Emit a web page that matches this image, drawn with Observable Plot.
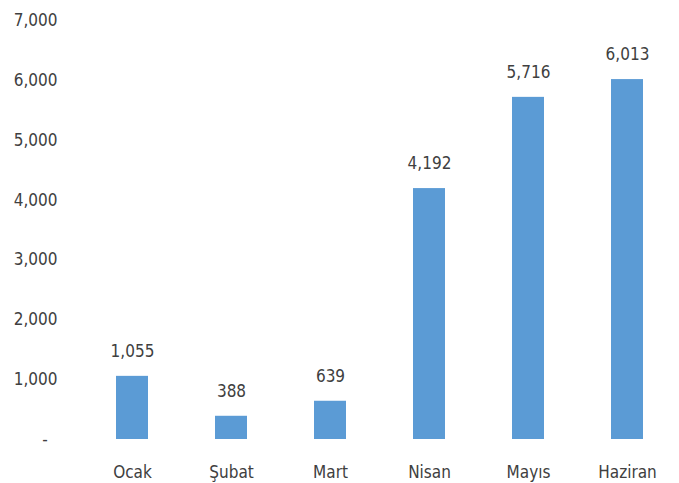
<!DOCTYPE html>
<html>
<head>
<meta charset="utf-8">
<script src="https://cdn.jsdelivr.net/npm/d3@7"></script>
<script src="https://cdn.jsdelivr.net/npm/@observablehq/plot@0.6"></script>
<style>
  html, body { margin: 0; padding: 0; background: #fff; }
  #chart svg { display: block; }
</style>
</head>
<body>
<div id="chart"></div>
<script>
const months = ["Ocak", "Şubat", "Mart", "Nisan", "Mayıs", "Haziran"];
const values = [1055, 388, 639, 4192, 5716, 6013];
const yTicks = [0, 1000, 2000, 3000, 4000, 5000, 6000, 7000];

const data = months.map((m, i) => ({month: m, value: values[i]}));
const fmt = d3.format(",");
const font = "'Liberation Sans Narrow', 'DejaVu Sans Condensed', sans-serif";

const chart = Plot.plot({
  width: 679,
  height: 483,
  marginTop: 20,
  marginBottom: 44,
  marginLeft: 80,
  marginRight: 0,
  style: {fontFamily: font, fontSize: "17px", color: "#404040", background: "#fff"},
  x: {domain: months, paddingInner: 0.68, paddingOuter: 0.34, label: null},
  y: {domain: [0, 7000], label: null},
  marks: [
    Plot.axisY({ticks: yTicks, tickSize: 0, tickPadding: 23, tickFormat: d => d === 0 ? "-\u00a0\u00a0" : fmt(d), fontSize: 17, fill: "#404040"}),
    Plot.axisX({tickSize: 0, tickPadding: 26, fontSize: 17, fill: "#404040"}),
    Plot.barY(data, {x: "month", y: "value", fill: "#5B9BD5"}),
    Plot.text(data, {x: "month", y: "value", text: d => fmt(d.value), dy: -25, fontSize: 17, fill: "#404040"})
  ]
});
document.getElementById("chart").appendChild(chart);
</script>
</body>
</html>
